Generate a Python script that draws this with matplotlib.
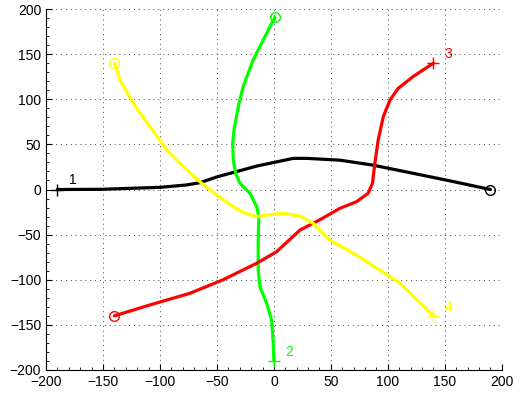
import matplotlib
matplotlib.use('Agg')
import matplotlib.pyplot as plt
from matplotlib.ticker import MultipleLocator

plt.rcParams['font.family'] = ['Liberation Sans', 'DejaVu Sans']

# curve 1 (black), from + to o
x1 = [-190, -152, -100, -77, -65, -50, -30, -15, 0, 17, 29, 58, 87, 122, 154, 190]
y1 = [0, 0.2, 2.4, 5, 7.5, 14, 20.8, 26, 30, 34.5, 34.5, 32.5, 27, 18, 9.7, 0]
# curve 2 (green), from + to o
x2 = [0, -0.6, -2, -6.4, -12.3, -13.8, -13.8, -13.5, -13.2, -15.2, -21, -29.8, -33.6,
      -35.6, -36.2, -35, -31.3, -27, -18.2, -6.4, 0.9]
y2 = [-190, -170, -144.6, -126, -107.7, -89, -59.6, -40, -30, -19, -4.2, 6.9, 18,
      32.7, 51, 66, 91.7, 114, 143.5, 173, 191]
# curve 3 (red), from o to +
x3 = [-140, -109, -73.7, -44.5, -15.2, 2.3, 22.8, 40, 58, 72.5, 82.7, 86.5, 88.6,
      91.5, 96, 101.8, 109, 122, 140]
y3 = [-140, -128, -115, -100, -81.8, -69, -45, -33.8, -20.8, -13.5, -4.2, 6.9, 29,
      54.8, 80.7, 99, 112, 125, 140]
# curve 4 (yellow), from o to +
x4 = [-140, -135, -123.4, -108.8, -94, -79.6, -65, -50.3, -35.7, -24, -13.8, -3.5,
      8, 22.8, 34.5, 49, 75.4, 110.5, 140]
y4 = [140, 121, 95.5, 69.6, 43.8, 25.3, 8.7, -6, -19, -27, -30, -28, -26.4, -29.4,
      -37.5, -56, -75, -103.6, -140]

labels = ['1', '2', '3', '4']
colors = ['k', '#00ff00', '#ff0000', '#ffff00']
plus_first = [True, True, False, False]

fig = plt.figure(figsize=(5.2, 3.96), dpi=100)
ax = fig.add_axes([0.0885, 0.0657, 0.8765, 0.9115])

for x, y, c, lab, pf in zip([x1, x2, x3, x4], [y1, y2, y3, y4], colors, labels, plus_first):
    ax.plot(x, y, color=c, lw=2.3, solid_joinstyle='round', solid_capstyle='round')
    p = 0 if pf else -1
    o = -1 if pf else 0
    ax.plot(x[p], y[p], '+', color=c, ms=8, mew=1)
    ax.plot(x[o], y[o], 'o', color=c, ms=7, mfc='none', mew=1)
    ax.text(x[p] + 10, y[p] + 10, lab, color=c, fontsize=10, ha='left', va='center')

ax.set_xlim(-200, 200)
ax.set_ylim(-200, 200)
ax.xaxis.set_major_locator(MultipleLocator(50))
ax.yaxis.set_major_locator(MultipleLocator(50))
ax.xaxis.set_minor_locator(MultipleLocator(10))
ax.yaxis.set_minor_locator(MultipleLocator(10))
ax.tick_params(which='both', direction='in', labelsize=10)
ax.tick_params(which='major', length=4)
ax.tick_params(which='minor', length=2)
ax.spines['top'].set_visible(False)
ax.spines['right'].set_visible(False)
ax.grid(True, which='major', linestyle=(0, (1, 4)), color='#444444', lw=0.7)

plt.savefig('out.png', dpi=100)
